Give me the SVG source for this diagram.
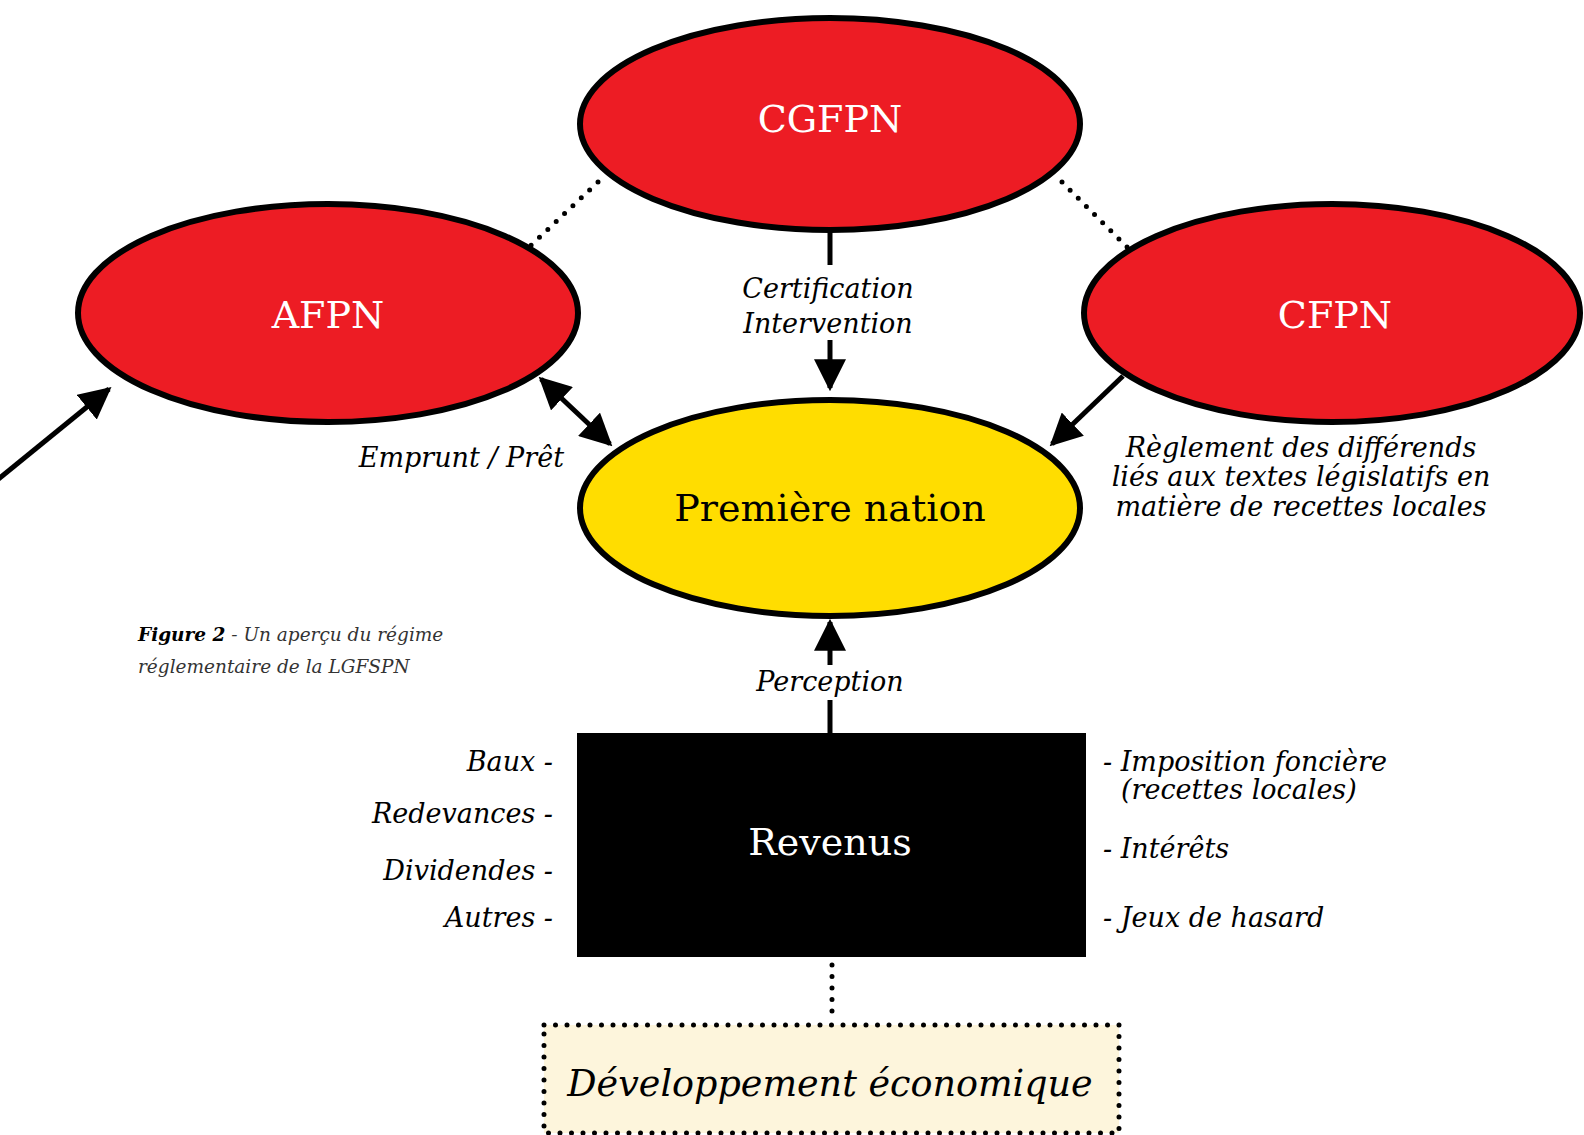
<svg xmlns="http://www.w3.org/2000/svg" width="1584" height="1135" viewBox="0 0 1584 1135">
<defs>
<style>
.ell{stroke:#000;stroke-width:6}
.red{fill:#ED1C24}
.yel{fill:#FFDD00}
.ln{stroke:#000;stroke-width:5;fill:none}
.dot{stroke:#000;stroke-width:5;stroke-linecap:round;stroke-dasharray:0 11.5;fill:none}
.t{font-family:"DejaVu Serif","Liberation Serif",serif}
.big{font-size:38px;text-anchor:middle}
.w{fill:#fff}
.lab{font-size:27px;font-style:italic;fill:#000}
.cap{font-size:18.5px;font-style:italic;fill:#333}
</style>
<marker id="ah" viewBox="0 0 10 10" refX="9" refY="5" markerWidth="6.4" markerHeight="6.4" markerUnits="strokeWidth" orient="auto-start-reverse">
<path d="M0,0 L10,5 L0,10 z" fill="#000"/>
</marker>
</defs>
<rect width="1584" height="1135" fill="#fff"/>
<g id="connectors">
<path class="dot" d="M598,182 L526,250"/>
<path class="dot" d="M1062,182 L1132,252"/>
<path class="ln" d="M830,232 V265"/>
<path class="ln" d="M830,340 V388" marker-end="url(#ah)"/>
<path class="ln" d="M541,379 L610,444" marker-start="url(#ah)" marker-end="url(#ah)"/>
<path class="ln" d="M1123,376 L1052,444" marker-end="url(#ah)"/>
<path class="ln" d="M-10,486 L109,389" marker-end="url(#ah)"/>
<path class="ln" d="M830,733 V700"/>
<path class="ln" d="M830,665 V622" marker-end="url(#ah)"/>
<path class="dot" d="M832,965 V1022"/>
</g>
<g id="node-cgfpn">
<ellipse class="ell red" cx="830" cy="124" rx="250" ry="106"/>
<text class="t big w" x="830" y="132">CGFPN</text>
</g>
<g id="node-afpn">
<ellipse class="ell red" cx="328" cy="313" rx="250" ry="109"/>
<text class="t big w" x="328" y="328">AFPN</text>
</g>
<g id="node-cfpn">
<ellipse class="ell red" cx="1332" cy="313" rx="248" ry="109"/>
<text class="t big w" x="1335" y="328">CFPN</text>
</g>
<g id="node-premiere-nation">
<ellipse class="ell yel" cx="830" cy="508" rx="250" ry="108"/>
<text class="t big" x="830" y="521" fill="#000">Première nation</text>
</g>
<g id="node-revenus">
<rect x="577" y="733" width="509" height="224" fill="#000"/>
<text class="t big w" x="830" y="855">Revenus</text>
</g>
<g id="node-developpement">
<rect x="544" y="1025" width="575" height="108" fill="#FDF5DC"/>
<path class="dot" d="M544,1025 H1119 V1133 H544 Z"/>
<text class="t lab" x="830" y="1096" text-anchor="middle" style="font-size:36.5px">Développement économique</text>
</g>
<g id="labels">
<text class="t lab" x="828" y="298" text-anchor="middle">Certification</text>
<text class="t lab" x="828" y="333" text-anchor="middle">Intervention</text>
<text class="t lab" x="564" y="467" text-anchor="end">Emprunt / Prêt</text>
<text class="t lab" x="1301" y="457" text-anchor="middle">Règlement des différends</text>
<text class="t lab" x="1301" y="486" text-anchor="middle">liés aux textes législatifs en</text>
<text class="t lab" x="1301" y="516" text-anchor="middle">matière de recettes locales</text>
<text class="t lab" x="830" y="691" text-anchor="middle">Perception</text>
<text class="t lab" x="553" y="771" text-anchor="end">Baux -</text>
<text class="t lab" x="553" y="823" text-anchor="end">Redevances -</text>
<text class="t lab" x="553" y="880" text-anchor="end">Dividendes -</text>
<text class="t lab" x="553" y="927" text-anchor="end">Autres -</text>
<text class="t lab" x="1103" y="771">- Imposition foncière</text>
<text class="t lab" x="1121" y="799">(recettes locales)</text>
<text class="t lab" x="1103" y="858">- Intérêts</text>
<text class="t lab" x="1103" y="927">- Jeux de hasard</text>
<text class="t cap" x="138" y="641"><tspan font-weight="bold" fill="#000">Figure 2</tspan> - Un aperçu du régime</text>
<text class="t cap" x="138" y="673">réglementaire de la LGFSPN</text>
</g>
</svg>
